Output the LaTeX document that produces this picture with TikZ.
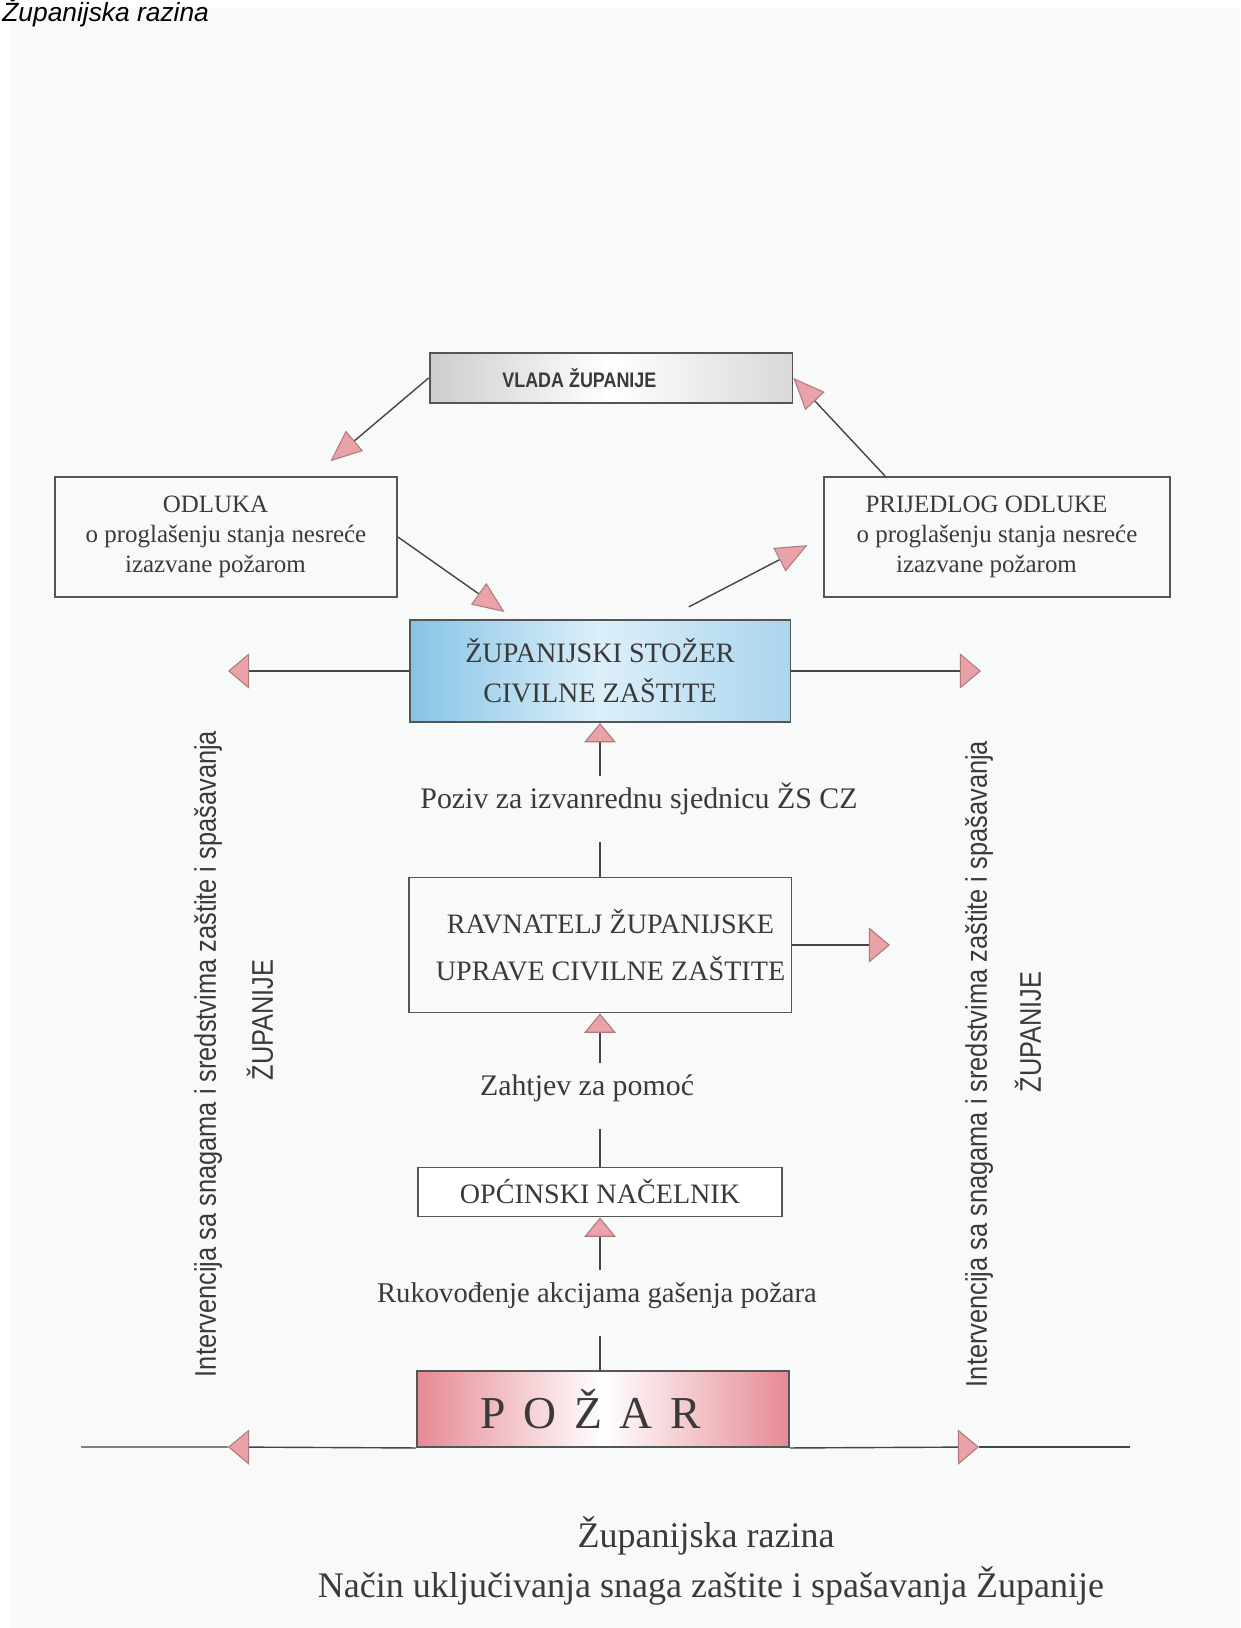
\documentclass[tikz,border=0pt]{standalone}
\usepackage{fontspec}
\setmainfont{Liberation Serif}
\newfontfamily\narrowsans[FakeStretch=0.85]{Liberation Sans}
\newfontfamily\headsans{Liberation Sans}
\usetikzlibrary{arrows.meta,calc}
\definecolor{edgegray}{HTML}{555555}
\definecolor{linegray}{HTML}{454545}
\definecolor{tipfill}{HTML}{E8A2A8}
\definecolor{tipedge}{HTML}{B07A7E}
\definecolor{bluedark}{HTML}{86C3E6}
\definecolor{bluelight}{HTML}{DCEFF9}
\definecolor{firered}{HTML}{E68A94}
\definecolor{pagetint}{HTML}{F7FAF8}
\definecolor{textgray}{HTML}{3A3A3A}
\tikzset{
  box/.style={draw=edgegray, line width=1.1pt, align=center, inner sep=2pt, text=textgray},
  conn/.style={draw=linegray, line width=0.8pt},
  bigarrow/.style={conn, -{Triangle[length=18pt,width=15pt,fill=tipfill,color=tipedge,line width=0.6pt]}},
  uparrow/.style={conn, -{Triangle[length=11pt,width=18pt,fill=tipfill,color=tipedge,line width=0.6pt]}},
  sidearrow/.style={conn, -{Triangle[length=12pt,width=20pt,fill=tipfill,color=tipedge,line width=0.6pt]}},
  lbl/.style={font=\fontsize{17}{20}\selectfont, text=textgray, text height=16pt, text depth=17pt, inner ysep=2pt, inner xsep=2pt},
  vert/.style={rotate=90, font=\narrowsans\fontsize{17}{20}\selectfont, text=textgray},
}
\begin{document}
\begin{tikzpicture}[x=0.02cm, y=-0.02cm]
\useasboundingbox (0,0) rectangle (1240,1628);
\fill[white] (0,0) rectangle (1240,1628);
\fill[pagetint] (10,8) rectangle (1240,1628);
\node[anchor=base west, font=\headsans\itshape\fontsize{15}{18}\selectfont, inner sep=0pt] (naslov) at (2,22) {Županijska razina};
\node[box, minimum width=7.26cm, minimum height=1.0cm, left color=gray!40, right color=gray!30, middle color=white, font=\narrowsans\bfseries\fontsize{12}{14}\selectfont] (vlada) at (611,378) {VLADA ŽUPANIJE\hspace*{36pt}};
\node[box, minimum width=6.84cm, minimum height=2.4cm, font=\fontsize{14.2}{17}\selectfont] (odluka) at (226,537) {ODLUKA\hspace*{12pt}\\o proglašenju stanja nesreće\hspace*{12pt}\\izazvane požarom\hspace*{12pt}};
\node[box, minimum width=6.92cm, minimum height=2.4cm, font=\fontsize{14.2}{17}\selectfont] (prijedlog) at (997,537) {PRIJEDLOG ODLUKE\hspace*{12pt}\\o proglašenju stanja nesreće\hspace*{12pt}\\izazvane požarom\hspace*{12pt}};
\node[box, minimum width=7.62cm, minimum height=2.04cm, left color=bluedark, right color=bluedark!70, middle color=bluelight, font=\fontsize{16}{22.7}\selectfont] (stozer) at (600,671) {ŽUPANIJSKI STOŽER\\CIVILNE ZAŠTITE};
\node[box, minimum width=7.66cm, minimum height=2.7cm, font=\fontsize{16}{27}\selectfont] (ravnatelj) at (600,945) {\hspace*{12pt}RAVNATELJ ŽUPANIJSKE\\\hspace*{12pt}UPRAVE CIVILNE ZAŠTITE};
\node[box, minimum width=7.28cm, minimum height=0.98cm, fill=white, font=\fontsize{16}{18}\selectfont] (opcinski) at (600,1192) {OPĆINSKI NAČELNIK};
\node[box, minimum width=7.44cm, minimum height=1.52cm, left color=firered, right color=firered, middle color=white, font=\fontsize{26}{30}\selectfont] (pozar) at (603,1409) {P\hspace{10pt}O\hspace{10pt}Ž\hspace{10pt}A\hspace{10pt}R\hspace*{14pt}};
\node[lbl, anchor=base] (poziv) at (639,808) {Poziv za izvanrednu sjednicu ŽS CZ};
\node[lbl, anchor=base] (zahtjev) at (587,1095) {Zahtjev za pomoć};
\node[lbl, anchor=base, font=\fontsize{16.3}{20}\selectfont] (rukovodjenje) at (597,1302) {Rukovođenje akcijama gašenja požara};
\draw[bigarrow, shorten >=13pt] (vlada.west) -- ($(odluka.north east)+(-85,0)$);
\draw[bigarrow, shorten >=7pt] (odluka.east) -- ($(stozer.north west)+(106,0)$);
\draw[bigarrow, shorten <=15pt, shorten >=10pt] ($(stozer.north east)+(-126,0)$) -- (prijedlog.west);
\draw[bigarrow] ($(prijedlog.north west)+(62,0)$) -- (vlada.east);
\draw[uparrow] (stozer.south |- poziv.north) -- (stozer.south);
\draw[conn] (ravnatelj.north) -- (ravnatelj.north |- poziv.south);
\draw[uparrow] (ravnatelj.south |- zahtjev.north) -- (ravnatelj.south);
\draw[conn] (opcinski.north) -- (opcinski.north |- zahtjev.south);
\draw[uparrow] (opcinski.south |- rukovodjenje.north) -- (opcinski.south);
\draw[conn] (pozar.north -| opcinski.south) -- (opcinski.south |- rukovodjenje.south);
\coordinate (stozerL) at (228,671);
\coordinate (stozerR) at (981,671);
\coordinate (ravnateljR) at (890,945);
\draw[sidearrow] (stozer.west) -- (stozerL);
\draw[sidearrow] (stozer.east) -- (stozerR);
\draw[sidearrow] (ravnatelj.east) -- (ravnateljR);
\coordinate (tloL) at (81,1447);
\coordinate (tloR) at (1130,1447);
\coordinate (strelicaL) at (228,1447);
\coordinate (strelicaR) at (979,1447);
\draw[conn, draw=gray, line width=1.4pt] (tloL) -- (strelicaL);
\draw[sidearrow] (pozar.south west) -- (strelicaL);
\draw[sidearrow] (pozar.south east) -- (strelicaR);
\draw[conn] (strelicaR) -- (tloR);
\node[vert] (intL) at (208,1054) {Intervencija sa snagama i sredstvima zaštite i spašavanja};
\node[vert] (zupL) at (260,1020) {ŽUPANIJE};
\node[vert] (intR) at (979,1064) {Intervencija sa snagama i sredstvima zaštite i spašavanja};
\node[vert] (zupR) at (1028,1032) {ŽUPANIJE};
\node[anchor=base, font=\fontsize{20.5}{24}\selectfont, text=textgray] (razina) at (706,1547) {Županijska razina};
\node[anchor=base, font=\fontsize{20.5}{24}\selectfont, text=textgray] (nacin) at (711,1597) {Način uključivanja snaga zaštite i spašavanja Županije};
\end{tikzpicture}
\end{document}
